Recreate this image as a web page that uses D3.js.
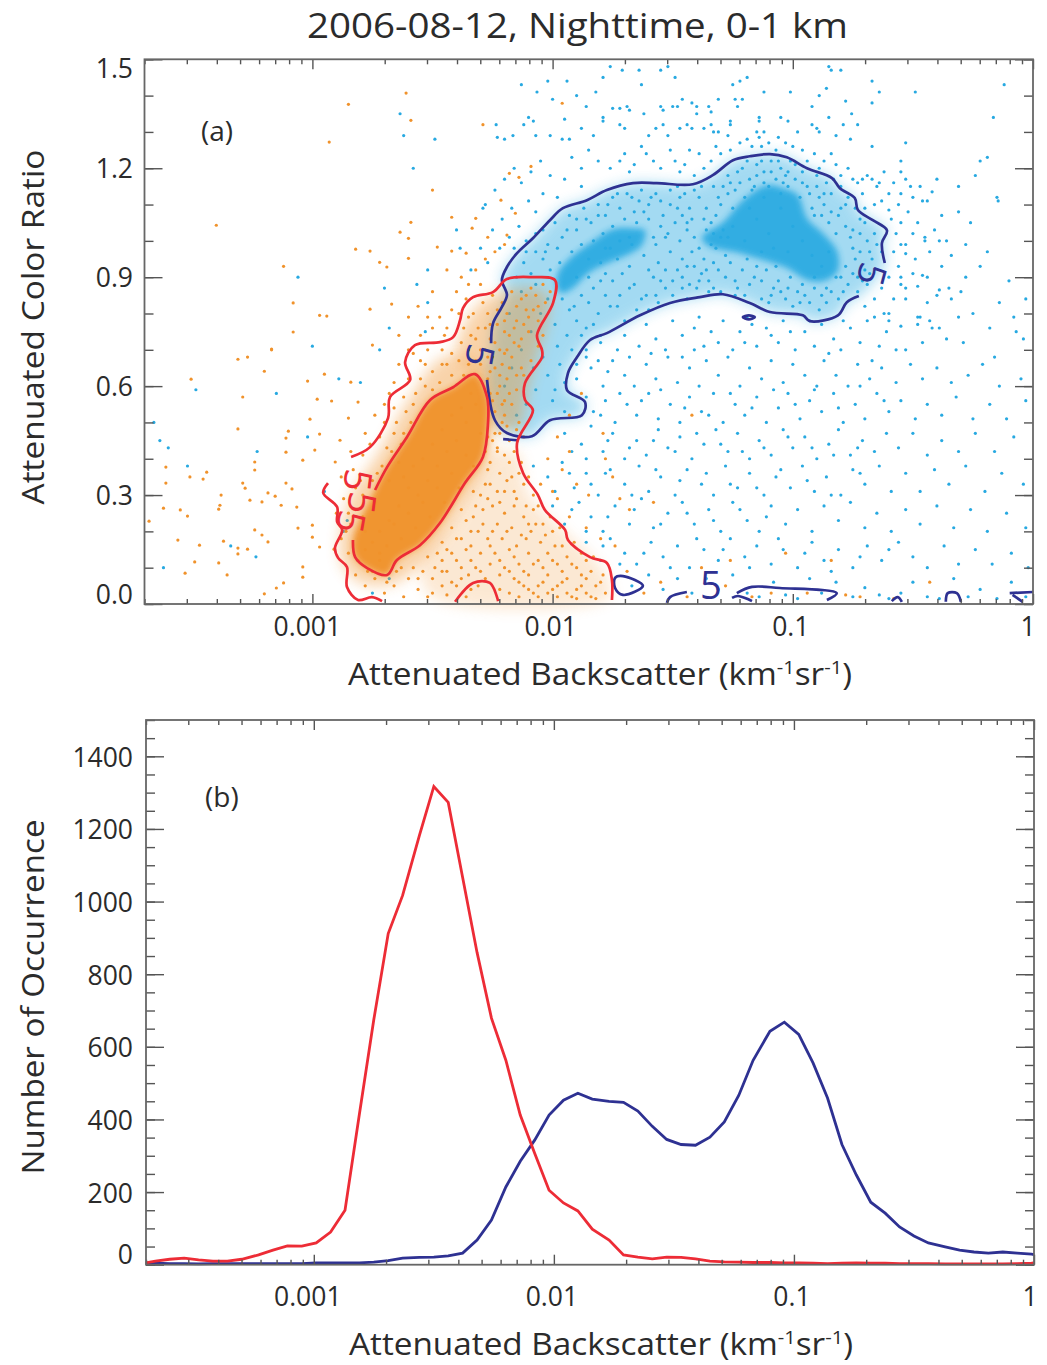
<!DOCTYPE html>
<html>
<head>
<meta charset="utf-8">
<script src="https://cdn.jsdelivr.net/npm/d3@7"></script>
<style>
  body { margin: 0; background: #fff; }
  text { font-family: "Open Sans", sans-serif; fill: #2b2b2b; }
</style>
</head>
<body>
<div id="chart"></div>
<script>
// all (a) panel values are [log10 backscatter, color ratio]

// contours, blue (water cloud)
const blueOuterTop = [[-2.256,.718],[-2.248,.773],[-2.211,.818],[-2.19,.851],[-2.211,.892],[-2.19,.928],[-2.148,.966],[-2.082,1.007],[-2.011,1.057],[-1.957,1.09],[-1.857,1.112],[-1.774,1.14],[-1.665,1.159],[-1.566,1.159],[-1.416,1.156],[-1.333,1.181],[-1.249,1.222],[-1.179,1.233],[-1.095,1.239],[-1.025,1.23],[-.941,1.2],[-.837,1.173],[-.804,1.145],[-.742,1.118],[-.729,1.085],[-.667,1.057],[-.608,1.029],[-.629,.994],[-.617,.939]];
const blueOuterBottom = [[-.725,.848],[-.775,.831],[-.812,.795],[-.929,.779],[-.958,.795],[-1.095,.804],[-1.179,.829],[-1.291,.853],[-1.387,.845],[-1.511,.829],[-1.636,.795],[-1.774,.746],[-1.844,.727],[-1.898,.68],[-1.936,.636],[-1.94,.589],[-1.865,.556],[-1.878,.52],[-2.011,.506],[-2.086,.462],[-2.19,.471],[-2.24,.506],[-2.273,.617]];
const blueInnerLeft = [[-1.982,.87],[-1.978,.911],[-1.928,.952],[-1.844,.994],[-1.749,1.032],[-1.665,1.035],[-1.615,1.029],[-1.628,.988],[-1.665,.969],[-1.844,.914],[-1.915,.87],[-1.961,.856]];
const blueInnerRight = [[-1.378,1.01],[-1.291,1.051],[-1.208,1.112],[-1.108,1.153],[-1.041,1.145],[-.979,1.126],[-.941,1.062],[-.875,1.021],[-.817,.974],[-.808,.928],[-.825,.906],[-.875,.889],[-.941,.892],[-1.025,.925],[-1.124,.947],[-1.22,.966],[-1.357,.988]];
const blueBits = [
  [[-2.206,.454],[-2.148,.451]],
  [[-1.524,.003],[-1.511,.019],[-1.441,.033]],
  [[-1.233,.03],[-1.17,.047],[-1.054,.044],[-.817,.03],[-.858,.011]],
  [[-1.253,.017],[-1.228,.022],[-1.17,.008]],
  [[-.588,.008],[-.563,.019],[-.546,.006]],
  [[-.363,.006],[-.355,.03],[-.317,.03],[-.3,.006]],
  [[-.097,.03],[0,.033]],
  [[-.085,.025],[-.043,.006]]
];
const blueLoops = [
  [[-1.74,.072],[-1.707,.077],[-1.624,.05],[-1.707,.025],[-1.74,.044]],
  [[-1.208,.79],[-1.183,.795],[-1.158,.79],[-1.183,.784]]
];

// contours, red (aerosol)
const redOuter = [[-2.839,.405],[-2.76,.432],[-2.685,.512],[-2.677,.57],[-2.593,.617],[-2.614,.666],[-2.573,.713],[-2.469,.721],[-2.414,.735],[-2.385,.782],[-2.373,.815],[-2.331,.845],[-2.248,.859],[-2.19,.895],[-2.082,.9],[-1.99,.892],[-1.998,.829],[-2.065,.74],[-2.044,.699],[-2.044,.68],[-2.115,.608],[-2.115,.562],[-2.082,.534],[-2.148,.443],[-2.123,.361],[-2.061,.3],[-2.032,.259],[-1.948,.204],[-1.936,.176],[-1.844,.129],[-1.774,.113],[-1.753,.066],[-1.753,.011]];
const redOuterLow = [[-2.935,.333],[-2.955,.306],[-2.897,.267],[-2.897,.226],[-2.876,.204],[-2.906,.154],[-2.893,.127],[-2.856,.102],[-2.856,.047],[-2.81,.011],[-2.752,.019],[-2.71,.008]];
const redBottom = [[-2.406,.006],[-2.331,.058],[-2.261,.058],[-2.227,.008]];
const redInner = [[-2.739,.314],[-2.689,.377],[-2.606,.46],[-2.51,.562],[-2.414,.597],[-2.323,.633],[-2.273,.57],[-2.269,.498],[-2.29,.405],[-2.365,.333],[-2.469,.223],[-2.552,.162],[-2.648,.121],[-2.689,.08],[-2.772,.099],[-2.822,.129],[-2.831,.176]];

// rough outlines of where the orange dots crowd, outside the inner contour
const orangeFringe = [[-2.88,.12],[-2.85,.28],[-2.72,.42],[-2.6,.56],[-2.45,.68],[-2.3,.66],[-2.25,.45],[-2.35,.3],[-2.5,.15],[-2.65,.06],[-2.8,.06]];
const orangeColumn = [[-2.4,.68],[-2.3,.83],[-2.1,.87],[-2.02,.85],[-2.1,.6],[-2.15,.48],[-2.27,.5],[-2.3,.62]];
const orangeTriangle = [[-2.3,.4],[-2.15,.42],[-2.1,.3],[-1.95,.2],[-1.8,.1],[-1.76,.02],[-2.5,.02],[-2.55,.12],[-2.4,.25]];

// contour labels [log10 backscatter, ratio, rotation]
const blueLabels = [[-2.302,.685,100],[-.671,.908,105],[-1.341,.052,0]];
const redLabels = [[-2.81,.341,97],[-2.793,.278,97],[-2.839,.226,100]];

// scatter, water cloud
const bluePointsFar = [[-2.13,1.43],[-2.02,1.44],[-1.94,1.44],[-2.065,1.41],[-2,1.39],[-2.635,1.35],[-2.62,1.29],[-2.49,1.28],[-2.58,1.2],[-2.235,1.32],[-2.12,1.32],[-2.1,1.34],[-2.08,1.33],[-1.95,1.335],[-2.23,1.285],[-2.2,1.28],[-2.165,1.29],[-2.07,1.29],[-2.01,1.29],[-1.96,1.28],[-3.06,.9],[-2.7,.87],[-2.68,.76],[-3,.71],[-2.52,.92],[-2.385,.98],[-2.28,1.1],[-2.29,1.09],[-2.4,1.03],[-2.565,.88],[-2.52,.83],[-2.53,.75],[-3.485,.59],[-3.15,.58],[-3.66,.5],[-3.635,.45],[-3.6,.43],[-3.23,.42],[-3.52,.38],[-3.02,.46],[-2.89,.62],[-2.8,.61],[-2.95,.31],[-2.855,.23],[-2.87,.2],[-3.34,.16],[-3.235,.13],[-3.62,.1],[-2.75,.03],[-2.68,.07],[-2.72,.7],[-2.16,1.2],[-2.2,1.17],[-2.24,1.14],[-2.13,1.16],[-2.09,1.19],[-2.05,1.22],[-2.01,1.18],[-2.04,1.13],[-2.1,1.11],[-2.17,1.09],[-2.21,1.06],[-2.25,1.03],[-2.14,1.04],[-2.07,1.08],[-1.98,1.12],[-1.95,1.17],[-1.92,1.23],[-1.88,1.2],[-1.85,1.25],[-1.81,1.22],[-1.88,1.15],[-2.3,.98],[-2.27,.94],[-2.22,.98],[-2.18,1.01],[-2.34,.92]];
const bluePointsTop = [[-1.76,1.48],[-1.71,1.47],[-1.64,1.47],[-1.55,1.47],[-1.52,1.48],[-1.49,1.45],[-1.63,1.43],[-1.82,1.41],[-1.79,1.45],[-1.25,1.43],[-1.22,1.44],[-1.19,1.45],[-1.12,1.41],[-1.01,1.41],[-.89,1.4],[-.86,1.42],[-.84,1.47],[-.8,1.47],[-.85,1.48],[-.67,1.44],[-.64,1.41],[-.67,1.38],[-.49,1.41],[-.12,1.43],[-.78,1.385],[-.755,1.35],[-.73,1.32],[-.79,1.32],[-.9,1.31],[-.92,1.32],[-.92,1.37],[-1.05,1.34],[-1.14,1.34],[-1.14,1.33],[-1.26,1.33],[-1.26,1.32],[-1.24,1.39],[-1.21,1.39],[-1.23,1.37],[-1.31,1.39],[-1.35,1.37],[-1.34,1.355],[-1.4,1.35],[-1.42,1.38],[-1.4,1.37],[-1.46,1.39],[-1.48,1.37],[-1.5,1.37],[-1.55,1.37],[-1.54,1.36],[-1.62,1.35],[-1.68,1.36],[-1.72,1.365],[-1.75,1.365],[-1.69,1.37],[-1.79,1.34],[-1.79,1.33],[-1.72,1.32],[-1.7,1.31],[-1.57,1.31],[-1.54,1.32],[-1.47,1.31],[-1.44,1.32],[-1.42,1.31],[-1.37,1.31],[-1.34,1.32],[-1.33,1.3],[-1.31,1.3],[-1.27,1.29],[-1.15,1.3],[-1.14,1.285],[-1.06,1.285],[-1.12,1.3],[-.89,1.3],[-.82,1.29],[-.76,1.28],[-.67,1.26],[-.53,1.27],[-.165,1.34],[-.19,1.23],[-.22,1.22],[-.24,1.18],[-.31,1.15],[-.15,1.12],[-.145,1.11],[-.26,1.05],[-.38,1.07],[-.41,1.03],[-.39,1],[-.45,1.01],[-.45,1],[-.48,1.05],[-.19,.97],[-.28,.9],[-.1,.89],[-.34,.96],[-.38,.93],[-.49,.95],[-.53,.965],[-.55,.99],[-.55,1.05],[-.42,1.135],[-.44,1.11],[-.46,1.11],[-.47,1.15],[-.4,1.17],[-.5,1.12],[-.55,1.13],[-.56,1.1],[-.6,1.085],[-.51,1.15],[-.53,1.17],[-.55,1.19],[-.55,1.22],[-.67,1.17],[-.65,1.15],[-.69,1.18],[-.71,1.17],[-.62,1.19],[-.03,.84],[-.44,.83],[-.35,.87],[-.34,.84],[-.39,.865],[-.4,.85],[-.46,.905],[-.44,.9],[-.48,.875],[-.53,.87],[-.55,.9],[-.55,.88],[-.58,.84],[-.53,.84],[-.31,.79],[-.36,.73],[-.46,.72],[-.47,.79],[-.48,.79],[-.48,.77],[-.55,.765],[-.53,.7],[-.6,.78],[-.6,.8],[-1.7,1.24],[-1.63,1.26],[-1.58,1.22],[-1.51,1.25],[-1.45,1.21],[-1.39,1.24],[-1.32,1.26],[-1.76,1.2],[-1.68,1.19],[-1.47,1.19],[-1.41,1.18],[-1.34,1.22],[-1.22,1.27],[-1.17,1.26],[-1.1,1.27],[-1,1.26],[-.96,1.25],[-.91,1.24],[-.87,1.22],[-.82,1.21],[-.77,1.2],[-.73,1.16],[-.63,1.11],[-.59,1.06],[-.57,1.02],[-.58,.97],[-.56,.93],[-.6,.9],[-.63,.87],[-.66,.84],[-.7,.82],[-.62,.8],[-.66,.79],
[-1.72,1.22],[-1.66,1.21],[-1.61,1.24],[-1.55,1.2],[-1.49,1.22],[-1.43,1.25],[-1.37,1.2],[-1.3,1.24],[-1.26,1.25],[-1.19,1.28],[-1.13,1.26],[-1.07,1.25],[-1.03,1.27],[-.94,1.22],[-.89,1.2],[-.84,1.24],[-.8,1.18],[-.75,1.17],[-.71,1.13],[-.66,1.1],[-.6,1.13],[-.64,1.16],[-.58,1.16],[-.52,1.08],[-.5,1.02],[-.53,.99],[-.5,.91],[-.43,.97],[-.36,1],[-.31,1.08],[-.28,.99],[-.22,.93],[-.3,.86],[-.43,.78],[-.39,.76],[-.25,.8],[-.14,.83],[-.08,.79],[-.18,.76],[-.04,.73],[-1.93,1.28],[-1.88,1.31],[-1.83,1.29],[-1.86,1.37],[-1.9,1.4],[-1.6,1.29],[-1.52,1.29],[-.98,1.3],[-1.02,1.33],[-.85,1.34]];
const bluePointsCloud = [[-2.16,.98],[-2.11,1],[-2.07,.97],[-2.12,.94],[-2.04,1.03],[-2.02,.99],[-1.99,1.05],[-1.96,1.01],[-1.93,1.07],[-1.9,1.03],[-1.87,1.09],[-1.84,1.05],[-1.81,1.1],[-1.78,1.07],[-1.75,1.12],[-1.72,1.09],[-1.69,1.13],[-1.66,1.08],[-1.63,1.14],[-1.6,1.1],[-1.57,1.13],[-1.54,1.07],[-1.51,1.14],[-1.48,1.09],[-1.45,1.13],[-1.42,1.06],[-1.39,1.12],[-1.36,1.09],[-1.33,1.15],[-1.3,1.1],[-1.27,1.18],[-1.24,1.14],[-1.21,1.2],[-1.18,1.17],[-1.15,1.21],[-1.12,1.19],[-1.09,1.22],[-1.05,1.2],[-1.02,1.19],[-.99,1.17],[-.96,1.16],[-.93,1.13],[-.9,1.15],[-.87,1.1],[-.84,1.13],[-.81,1.07],[-.78,1.1],[-.75,1.03],[-.72,1.06],[-.69,1],[-.66,1.02],[-.63,.97],[-.67,.95],[-.7,.92],[-.74,.95],[-.77,.88],[-.8,.9],[-.84,.86],[-.88,.85],[-.93,.83],[-.98,.86],[-1.03,.84],[-1.08,.87],[-1.13,.84],[-1.18,.88],[-1.23,.87],[-1.28,.9],[-1.33,.87],[-1.38,.91],[-1.43,.88],[-1.48,.92],[-1.53,.87],[-1.58,.9],[-1.63,.84],[-1.68,.87],[-1.73,.82],[-1.78,.85],[-1.83,.77],[-1.88,.74],[-1.92,.7],[-1.97,.66],[-2.02,.63],[-2.07,.59],[-2.11,.55],[-2.15,.52],[-2,.56],[-1.95,.53],[-2.2,.6],[-2.17,.65],[-2.13,.7],[-2.09,.75],[-2.05,.8],[-2.02,.84],[-2.07,.88],[-2.13,.86],[-2.18,.8],[-1.99,.77],[-1.93,.81],[-1.88,.85],[-1.83,.87],[-1.78,.91],[-1.73,.95],[-1.68,.93],[-1.62,.96],[-1.57,.99],[-1.52,1.02],[-1.47,1],[-1.42,.97],[-1.37,.95],[-1.32,.98],[-1.56,.94],[-1.51,.97],[-1.46,.95],[-1.41,1.01],[-1.36,1.03],[-1.31,.92],[-1.26,.94],[-1.21,.92],[-1.16,.9],[-1.11,.92],[-1.06,.89],[-1.01,.9],[-.96,.88],[-.91,.87],[-.86,.87],[-.82,.9],[-.78,.93],[-.75,.98],[-.72,1.02],[-.78,1.04],[-.82,1.02],[-.85,1.05],[-.88,1.07],[-.92,1.09],[-.97,1.12],[-1.02,1.15],[-1.07,1.17],[-1.12,1.16],[-1.17,1.14],[-1.22,1.16],[-1.27,1.13],[-1.32,1.07],[-1.37,1.06],[-1.43,1.09],[-1.49,1.05],[-1.55,1.04],[-1.6,1.06],[-1.65,1.05],[-1.7,1.06],[-1.75,1.04],[-1.79,1.02],[-1.83,1],[-1.88,.99],[-1.92,.97],[-1.97,.94],[-2.01,.92],[-1.58,1.01],[-1.6,.92],[-1.55,.89],[-1.46,.9],[-1.41,.93],[-1.35,.89],[-1.29,1.03],[-1.25,1.09],[-1.2,1.12],[-1.15,1.18],[-1.09,1.19],[-1.03,1.18],[-.99,1.21],[-1.06,1.22],[-1.13,1.22],[-1.19,1.22],[-.9,1.18],[-.86,1.16],[-.8,1.15],[-.74,1.09],[-.7,1.05],[-.72,.97],[-.69,.88],[-.73,.86],[-.81,.84],[-.89,.81],[-1,.82],[-1.1,.83],[-1.2,.85],[-1.3,.86],[-1.4,.87],[-1.5,.85],[-1.6,.81],[-1.7,.78],[-1.8,.74],[-1.86,.7],[-1.9,.66],[-1.95,.61],[-1.99,.59],
[-1.51,1.1],[-1.47,1.12],[-1.44,1.03],[-1.53,1.01],[-1.59,1.12],[-1.64,1.11],[-1.67,.99],[-1.71,.91],[-1.75,.89],[-1.8,.94],[-1.85,.83],[-1.9,.78],[-1.94,.74],[-1.98,.71],[-2.04,.68],[-2.08,.65],[-1.96,.84],[-2.04,.95],[-2.09,.91],[-2.15,.9],[-1.76,.98],[-1.66,.88],[-1.61,.85],[-1.56,.83],[-1.44,.84],[-1.36,.92],[-1.34,.99],[-1.39,.98],[-1.44,1.05],[-1.38,1.15],[-1.41,1.14],[-1.46,1.07],[-1.33,1.02],[-1.24,.89],[-1.19,.95],[-1.15,.93],[-1.07,.93],[-1.02,.87],[-.95,.85],[-.91,.9],[-.86,.83],[-.79,.86],[-.75,.91],[-.71,.89],[-.76,1.01],[-.8,1.09],[-.84,1.08],[-.89,1.12],[-.94,1.15],[-.87,1.13],[-.91,1.07],[-.96,1.19],[-1.01,1.22],[-1.04,1.16],[-1.1,1.15],[-1.16,1.15],[-1.23,1.19],[-1.26,1.16],[-1.29,1.15],[-1.31,1.12],[-1.34,1.05],[-1.48,1.15],[-1.55,1.11],[-1.62,1.08],[-1.67,1.12],[-1.73,1.13],[-1.77,1.1],[-1.81,1.07],[-1.86,1.06],[-1.9,1.06],[-1.94,1.03],[-1.98,.98],[-2.03,.97],[-2.07,1.02],[-2.11,.97],[-1.72,.85],[-1.65,.81],[-1.76,.82],[-1.81,.8],[-1.86,.76],[-1.91,.82],[-1.85,.9],[-1.8,.89],[-1.53,.92],[-1.5,.89],[-1.44,.93],[-1.39,.89],[-1.33,.94],[-1.28,.96],[-1.27,1.01],[-.68,.97],[-.65,.99],[-.7,1.09],[-.77,1.12],[-.83,1.17],[-.73,.9],[-.68,.91],[-1.13,.89],[-1.09,.85],[-1.05,.86],[-.97,.83],[-1.24,.85],[-1.35,.86],[-1.46,.87],[-1.57,.85]];
const bluePointsCore = [[-1.3,1.01],[-1.25,1.04],[-1.2,1],[-1.15,1.06],[-1.1,1.02],[-1.05,1.09],[-1,1.04],[-.96,1],[-.92,.96],[-.88,.93],[-.85,.97],[-1.08,.98],[-1.13,.97],[-1.02,.97],[-1.18,1.09],[-1.12,1.12],[-1.05,1.13],[-1.78,.98],[-1.72,1],[-1.68,1.01],[-1.85,.95],[-1.9,.9]];
const bluePointsFan = [[-1.8,.72],[-1.73,.7],[-1.7,.74],[-1.64,.71],[-1.61,.77],[-1.57,.73],[-1.53,.7],[-1.5,.78],[-1.46,.74],[-1.41,.7],[-1.39,.79],[-1.34,.75],[-1.31,.72],[-1.29,.78],[-1.25,.7],[-1.22,.75],[-1.19,.79],[-1.15,.71],[-1.11,.76],[-1.06,.72],[-1.04,.78],[-.99,.7],[-.95,.75],[-.91,.71],[-.88,.77],[-.83,.73],[-.8,.7],[-.76,.76],[-.72,.72],[-.69,.78],[-.64,.71],[-.61,.75],[-.57,.7],[-.42,.76],[-.29,.72],[-.16,.68],[-.07,.75],
[-1.9,.62],[-1.84,.65],[-1.79,.6],[-1.75,.67],[-1.7,.63],[-1.66,.6],[-1.61,.66],[-1.57,.62],[-1.52,.68],[-1.48,.61],[-1.43,.65],[-1.39,.6],[-1.36,.67],[-1.31,.63],[-1.27,.68],[-1.22,.6],[-1.18,.65],[-1.13,.62],[-1.09,.67],[-1.04,.61],[-1,.66],[-.95,.63],[-.9,.6],[-.87,.67],[-.82,.63],[-.77,.6],[-.73,.66],[-.68,.62],[-.63,.65],[-.57,.61],[-.51,.66],[-.46,.62],[-.4,.65],[-.34,.61],[-.27,.63],[-.21,.66],[-.14,.6],[-.05,.62],
[-1.83,.53],[-1.78,.56],[-1.74,.5],[-1.69,.55],[-1.65,.52],[-1.6,.58],[-1.56,.51],[-1.51,.55],[-1.47,.5],[-1.43,.57],[-1.38,.53],[-1.33,.58],[-1.29,.5],[-1.24,.55],[-1.2,.52],[-1.15,.57],[-1.11,.5],[-1.06,.54],[-1.02,.58],[-.97,.51],[-.93,.56],[-.88,.53],[-.83,.58],[-.79,.5],[-.74,.55],[-.7,.51],[-.65,.58],[-.6,.53],[-.55,.56],[-.49,.51],[-.44,.55],[-.38,.52],[-.32,.57],[-.25,.51],[-.18,.55],[-.11,.51],[-.03,.56],
[-1.95,.47],[-1.88,.44],[-1.84,.49],[-1.79,.42],[-1.75,.47],[-1.7,.4],[-1.65,.45],[-1.61,.41],[-1.56,.48],[-1.52,.43],[-1.47,.46],[-1.42,.4],[-1.37,.44],[-1.32,.48],[-1.27,.42],[-1.23,.47],[-1.18,.4],[-1.14,.45],[-1.09,.41],[-1.04,.48],[-1,.43],[-.95,.46],[-.9,.4],[-.85,.44],[-.81,.48],[-.76,.41],[-.71,.45],[-.66,.42],[-.61,.47],[-.56,.43],[-.5,.47],[-.44,.41],[-.38,.45],[-.31,.42],[-.24,.47],[-.16,.42],[-.08,.46],
[-2.08,.38],[-2.02,.35],[-1.96,.39],[-1.91,.32],[-1.86,.36],[-1.81,.3],[-1.76,.37],[-1.7,.33],[-1.64,.38],[-1.6,.31],[-1.55,.35],[-1.49,.3],[-1.44,.37],[-1.38,.33],[-1.33,.3],[-1.28,.38],[-1.23,.32],[-1.18,.36],[-1.12,.3],[-1.07,.35],[-1.01,.32],[-.96,.38],[-.91,.31],[-.86,.35],[-.8,.3],[-.75,.37],[-.7,.33],[-.64,.38],[-.59,.31],[-.53,.36],[-.47,.31],[-.41,.37],[-.35,.33],[-.28,.38],[-.2,.31],[-.13,.36],[-.04,.33],
[-2,.27],[-1.95,.22],[-1.89,.28],[-1.84,.24],[-1.79,.2],[-1.74,.27],[-1.68,.22],[-1.63,.29],[-1.58,.21],[-1.52,.25],[-1.46,.28],[-1.41,.22],[-1.35,.26],[-1.3,.2],[-1.25,.28],[-1.19,.23],[-1.14,.2],[-1.09,.27],[-1.03,.22],[-.98,.26],[-.92,.2],[-.87,.27],[-.81,.23],[-.76,.28],[-.7,.21],[-.65,.25],[-.59,.2],[-.53,.26],[-.47,.22],[-.4,.27],[-.33,.21],[-.26,.26],[-.19,.2],[-.11,.25],[-.03,.21],
[-1.86,.17],[-1.8,.12],[-1.76,.18],[-1.7,.14],[-1.65,.11],[-1.59,.17],[-1.54,.13],[-1.48,.16],[-1.43,.1],[-1.37,.15],[-1.31,.12],[-1.26,.18],[-1.2,.13],[-1.15,.16],[-1.09,.11],[-1.04,.15],[-.98,.1],[-.92,.17],[-.87,.12],[-.81,.15],[-.75,.1],[-.69,.16],[-.63,.12],[-.56,.17],[-.5,.13],[-.44,.1],[-.37,.16],[-.31,.11],[-.24,.15],[-.17,.11],[-.09,.14],[-.02,.1],
[-1.67,.05],[-1.6,.08],[-1.54,.04],[-1.48,.07],[-1.42,.03],[-1.36,.07],[-1.31,.04],[-1.25,.08],[-1.19,.03],[-1.14,.02],[-1.08,.06],[-1.03,.025],[-.98,.015],[-.93,.07],[-.88,.03],[-.82,.06],[-.75,.02],[-.7,.045],[-.64,.025],[-.6,.015],[-.55,.03],[-.5,.06],[-.44,.02],[-.39,.015],[-.33,.07],[-.27,.02],[-.22,.04],[-.15,.015],[-.09,.06],[-.03,.02],
[-1.86,.68],[-1.81,.67],[-1.77,.64],[-1.68,.68],[-1.59,.69],[-1.46,.68],[-1.41,.76],[-1.37,.71],[-1.2,.72],[-1.17,.77],[-1.09,.74],[-1.01,.75],[-.93,.78],[-.85,.69],[-.79,.78],[-.67,.67],[-1.86,.57],[-1.8,.52],[-1.72,.58],[-1.63,.56],[-1.55,.59],[-1.45,.54],[-1.35,.52],[-1.26,.58],[-1.17,.54],[-1.08,.59],[-.99,.55],[-.91,.59],[-.81,.54],[-.72,.6],[-.62,.56],[-1.92,.42],[-1.86,.4],[-1.77,.45],[-1.68,.43],[-1.58,.45],[-1.49,.42],[-1.4,.47],[-1.3,.44],[-1.21,.42],[-1.12,.43],[-1.02,.46],[-.92,.43],[-.83,.41],[-.73,.43],[-1.99,.31],[-1.93,.36],[-1.84,.33],[-1.78,.36],[-1.67,.3],[-1.57,.37],[-1.47,.34],[-1.36,.36],[-1.26,.33],[-1.15,.32],[-1.05,.37],[-.94,.34],[-.84,.3],[-.72,.36],[-1.92,.26],[-1.86,.2],[-1.77,.24],[-1.66,.26],[-1.55,.22],[-1.44,.25],[-1.33,.23],[-1.22,.26],[-1.11,.24],[-1.79,.16],[-1.72,.11],[-1.62,.14],[-1.51,.1],[-1.4,.18],[-1.29,.15],[-1.18,.1],[-1.06,.18],[-.95,.14],[-.84,.09],[-.72,.13],[-.6,.15]];

// scatter, aerosol
const orangePointsFar = [[-2.61,1.407],[-2.85,1.376],[-2.59,1.332],[-2.93,1.272],[-2.5,1.14],[-3.4,1.043],[-2.59,1.051],[-2.635,1.024],[-2.6,1.007],[-2.82,.977],[-2.76,.972],[-3.12,.93],[-2.72,.941],[-2.69,.928],[-2.6,.952],[-3.08,.829],[-2.97,.795],[-2.94,.793],[-2.76,.812],[-2.67,.826],[-3.08,.749],[-2.64,.74],[-3.17,.702],[-2.75,.713],[-2.42,1.065],[-2.335,1.035],[-2.29,1.32],[-1.96,1.379],[-2.09,1.205],[-2.14,1.175],[-2.18,1.186],[-2.155,1.076],[-2.32,1.062],[-2.215,1.112],[-2.48,.983],[-2.42,.972],[-2.36,.966],[-2.27,1.01],[-2.19,1.016],[-3.31,.674],[-3.27,.68],[-3.17,.7],[-3.2,.641],[-3.505,.619],[-3.29,.57],[-3.31,.482],[-3.02,.614],[-2.95,.633],[-2.84,.611],[-2.98,.564],[-2.92,.559],[-2.81,.556],[-2.85,.512],[-3.01,.509],[-3.1,.476],[-2.97,.468],[-3.11,.457],[-2.885,.451],[-2.99,.424],[-3.11,.418],[-3.04,.396],[-3.24,.391],[-2.905,.391],[-3.24,.369],[-3.61,.377],[-3.51,.35],[-3.455,.344],[-3.44,.363],[-3.61,.333],[-3.29,.333],[-3.28,.319],[-3.11,.333],[-3.085,.317],[-3.185,.306],[-3.155,.297],[-3.38,.3],[-3.26,.286],[-3.21,.281],[-3.13,.272],[-3.385,.272],[-3.39,.261],[-3.065,.267],[-3.62,.264],[-3.55,.259],[-3.52,.242],[-3.68,.228],[-3,.217],[-3.06,.209],[-3.24,.204],[-3.21,.19],[-3.56,.176],[-3.47,.162],[-3.37,.173],[-3.31,.154],[-3.27,.151],[-3.185,.171],[-3,.184],[-2.97,.157],[-3.31,.138],[-3.49,.116],[-3.39,.113],[-3.53,.085],[-3.355,.08],[-3.04,.102],[-3.04,.074],[-3.12,.058],[-3.15,.044],[-3.2,.028],[-2.91,.151]];
const orangePointsEdge = [[-2.58,.69],[-2.55,.74],[-2.52,.7],[-2.5,.76],[-2.47,.79],[-2.45,.74],[-2.52,.79],[-2.56,.82],[-2.6,.79],[-2.42,.81],[-2.4,.86],[-2.38,.9],[-2.35,.88],[-2.32,.92],[-2.28,.95],[-2.24,.97],[-2.2,.99],[-2.3,.88],[-2.44,.92],[-2.5,.86],[-2.55,.67],[-2.6,.7],[-2.64,.66],[-2.66,.61],[-2.62,.57],[-2.66,.54],[-2.7,.5],[-2.72,.46],[-2.76,.44],[-2.79,.41],[-2.83,.37],[-2.82,.32],[-2.87,.29],[-2.9,.25],[-2.88,.18],[-2.85,.14],[-2.82,.08],[-2.78,.05],[-2.74,.07],[-2.7,.03],[-2.66,.05],[-2.62,.02],[-2.6,.07],[-2.7,.55],[-2.65,.5],[-2.61,.53],[-2.57,.58],[-2.55,.62],[-2.5,.64],[-2.46,.66],[-2.42,.69],[-2.38,.72],[-2.42,.63],[-2.5,.59],[-2.62,.47],[-2.67,.42],[-2.71,.38],[-2.75,.34],[-2.79,.3],[-2.82,.26],[-2.84,.22],[-2.86,.2],[-2.79,.24],[-2.74,.28],[-2.68,.34],[-2.64,.39],[-2.81,.12],[-2.77,.09],[-2.72,.12],[-2.65,.09],[-2.58,.1],[-2.52,.13],[-2.46,.17],[-2.42,.21],[-2.38,.26],[-2.33,.31],[-2.27,.37],[-2.23,.43],[-2.21,.5],[-2.2,.56],[-2.22,.6],[-2.26,.64],[-2.3,.66],
[-2.78,.2],[-2.85,.25],[-2.8,.34],[-2.73,.36],[-2.69,.43],[-2.63,.44],[-2.66,.47],[-2.59,.5],[-2.58,.55],[-2.53,.6],[-2.47,.61],[-2.44,.66],[-2.39,.67],[-2.35,.66],[-2.37,.63],[-2.44,.76],[-2.39,.8],[-2.36,.84],[-2.46,.7],[-2.53,.66],[-2.6,.62],[-2.68,.58],[-2.74,.52],[-2.78,.47],[-2.84,.42],[-2.88,.35],[-2.75,.09],[-2.69,.06],[-2.63,.1],[-2.56,.07],[-2.49,.1],[-2.44,.15],[-2.4,.18],[-2.36,.23],[-2.32,.27],[-2.28,.33],[-2.26,.39],[-2.24,.47],[-2.25,.56]];
const orangePointsColumn = [[-2.3,.7],[-2.26,.73],[-2.22,.7],[-2.18,.74],[-2.14,.71],[-2.1,.75],[-2.06,.78],[-2.03,.83],[-2.07,.85],[-2.11,.81],[-2.15,.78],[-2.19,.8],[-2.23,.77],[-2.27,.8],[-2.31,.76],[-2.35,.79],[-2.34,.74],[-2.29,.83],[-2.25,.85],[-2.21,.83],[-2.17,.86],[-2.13,.84],[-2.09,.87],[-2.04,.88],[-2.01,.86],[-2.25,.68],[-2.21,.66],[-2.17,.68],[-2.13,.65],[-2.09,.67],[-2.06,.71],[-2.27,.62],[-2.23,.58],[-2.19,.62],[-2.15,.59],[-2.12,.63],[-2.24,.53],[-2.2,.52],[-2.17,.55],[-2.14,.5],[-2.22,.47],[-2.18,.45],[-2.15,.48],[-2.25,.45],[-2.28,.42],[-2.2,.41],[-2.16,.42],[-2.12,.46],[-2.32,.73],[-2.37,.76],[-2.28,.76],[-2.24,.72],[-2.2,.75],[-2.16,.72],[-2.12,.77],[-2.08,.81],[-2.04,.74],[-2.28,.7],[-2.24,.65],[-2.18,.58],[-2.15,.63],[-2.2,.69],[-2.32,.67],[-2.35,.7],[-2.27,.68],[-2.19,.7],[-2.13,.73],[-2.23,.81],[-2.15,.82],[-2.1,.79],[-2.26,.77],[-2.33,.8],[-2.22,.63],[-2.18,.65],[-2.26,.58],[-2.21,.55],[-2.19,.49],[-2.23,.42],[-2.27,.46],[-2.11,.85],[-2.06,.82],[-2.16,.76],[-2.2,.78]];
const orangePointsBelow = [[-2.3,.3],[-2.26,.33],[-2.22,.36],[-2.18,.39],[-2.14,.36],[-2.2,.31],[-2.16,.31],[-2.12,.33],[-2.08,.3],[-2.25,.27],[-2.2,.25],[-2.16,.27],[-2.12,.24],[-2.08,.26],[-2.04,.22],[-2.33,.24],[-2.29,.22],[-2.25,.2],[-2.21,.18],[-2.17,.21],[-2.13,.19],[-2.09,.2],[-2.05,.17],[-2,.2],[-1.96,.16],[-2.38,.18],[-2.34,.16],[-2.3,.14],[-2.26,.16],[-2.22,.12],[-2.18,.15],[-2.14,.11],[-2.1,.14],[-2.06,.12],[-2.02,.14],[-1.98,.11],[-1.94,.13],[-1.9,.1],[-1.86,.12],[-2.46,.12],[-2.42,.14],[-2.38,.1],[-2.34,.12],[-2.3,.09],[-2.26,.11],[-2.22,.08],[-2.18,.09],[-2.14,.06],[-2.1,.08],[-2.06,.05],[-2.02,.08],[-1.98,.05],[-1.94,.07],[-1.9,.04],[-1.86,.07],[-1.82,.05],[-1.79,.08],[-2.54,.09],[-2.5,.07],[-2.46,.09],[-2.42,.06],[-2.38,.07],[-2.34,.04],[-2.22,.04],[-2.18,.03],[-2.14,.02],[-2.1,.04],[-2.06,.02],[-2.02,.03],[-1.98,.02],[-1.94,.03],[-1.9,.015],[-1.86,.03],[-1.82,.015],[-1.78,.03],[-2.5,.03],[-2.46,.05],[-2.56,.04],[-2.52,.02],[-2.44,.025],[-2.36,.02],[-2.02,.4],[-1.96,.37],[-1.9,.33],[-1.85,.3],[-1.78,.4],[-1.72,.29],[-1.98,.29],[-1.93,.24],[-1.86,.21],[-1.8,.18],[-1.74,.16],[-1.69,.09],[-1.62,.03],[-1.55,.06],[-1.44,.02],[-1.38,.1],[-1.26,.12],[-1.28,.05],[-1.17,.02],[-1.09,.03],[-1.03,.14],[-.94,.03],[-.84,.12],[-.78,.025],[-.72,.02],[-.58,.015],[-.43,.06],[-1.98,.46],[-1.93,.52],[-1.88,.58],[-1.79,.47],[-1.75,.35],[-1.42,.52],[-1.68,.26],[-1.58,.28],
[-2.27,.29],[-2.23,.31],[-2.19,.34],[-2.15,.29],[-2.11,.27],[-2.31,.2],[-2.27,.18],[-2.23,.22],[-2.19,.2],[-2.15,.16],[-2.11,.18],[-2.07,.22],[-2.03,.19],[-1.99,.16],[-2.4,.12],[-2.36,.15],[-2.32,.1],[-2.28,.07],[-2.24,.14],[-2.2,.1],[-2.16,.13],[-2.12,.09],[-2.08,.11],[-2.04,.1],[-2,.12],[-1.96,.09],[-1.92,.11],[-1.88,.08],[-1.84,.09],[-2.48,.14],[-2.44,.09],[-2.4,.05],[-2.35,.08],[-2.31,.05],[-2.16,.07],[-2.12,.05],[-2.08,.03],[-2.04,.06],[-2,.04],[-1.96,.06],[-1.92,.02],[-1.88,.05],[-1.84,.02],[-1.8,.06],[-2.34,.2],[-2.29,.26],[-2.22,.28],[-2.17,.35],[-2.1,.22],[-2.06,.27],[-2.01,.24],[-1.97,.21],[-1.91,.17],[-1.88,.14],[-1.83,.13],[-2.13,.39],[-2.1,.35],[-2.05,.33],[-2,.31],[-1.93,.42]];
const orangePointsCore = [[-2.75,.17],[-2.72,.2],[-2.69,.16],[-2.66,.22],[-2.63,.18],[-2.6,.25],[-2.57,.21],[-2.54,.28],[-2.51,.24],[-2.48,.32],[-2.45,.28],[-2.42,.36],[-2.39,.32],[-2.36,.41],[-2.33,.38],[-2.3,.47],[-2.32,.55],[-2.36,.5],[-2.4,.45],[-2.44,.42],[-2.48,.38],[-2.52,.34],[-2.56,.3],[-2.6,.32],[-2.64,.27],[-2.68,.23],[-2.72,.14],[-2.78,.15],[-2.38,.54],[-2.42,.52],[-2.46,.48],[-2.34,.58],[-2.5,.44],[-2.54,.4],[-2.58,.38],[-2.62,.35]];

// panel (b), histogram bins
const binLog10 = [-3.7,-3.66,-3.6,-3.54,-3.48,-3.42,-3.36,-3.3,-3.23,-3.17,-3.11,-3.05,-2.99,-2.93,-2.87,-2.81,-2.75,-2.69,-2.63,-2.56,-2.5,-2.44,-2.38,-2.32,-2.26,-2.2,-2.14,-2.08,-2.02,-1.96,-1.9,-1.84,-1.77,-1.71,-1.65,-1.59,-1.53,-1.47,-1.41,-1.35,-1.29,-1.23,-1.17,-1.1,-1.04,-.98,-.92,-.86,-.8,-.74,-.68,-.62,-.56,-.5,-.44,-.37,-.31,-.25,-.19,-.13,-.07,-.01,0];
const redCounts = [5,10,15,18,13,10,10,15,27,40,52,51,60,90,150,415,675,912,1017,1182,1317,1273,1066,860,679,563,412,307,205,170,148,98,68,27,21,16,21,20,16,10,8,7,6,6,5,5,4,3,4,5,4,4,3,3,3,2,2,2,2,2,3,4,5];
const blueCounts = [4,4,3,3,2,3,3,3,3,3,3,3,5,5,5,5,7,11,18,20,21,24,32,68,123,214,285,343,412,453,472,456,450,447,423,381,345,331,329,351,393,466,563,643,668,634,555,459,331,247,172,142,104,79,60,49,40,35,32,35,32,29,28];

// tick values
const xMajor = [0.001, 0.01, 0.1, 1];
const xLabels = ["0.001", "0.01", "0.1", "1"];
const yTicksA = [0, 0.3, 0.6, 0.9, 1.2, 1.5];
const yTicksB = [0, 200, 400, 600, 800, 1000, 1200, 1400];

const colors = { red: "#ed2c36", navy: "#2e3192", orange: "#f0922b", sky: "#27a9e1", frame: "#666" };

const svg = d3.select("#chart").append("svg").attr("width", 1047).attr("height", 1365);

// soft edges for the crowded areas
const defs = svg.append("defs");
[["soft", 7], ["softer", 3]].forEach(([id, sd]) => {
  defs.append("filter").attr("id", id).attr("x", "-20%").attr("y", "-20%").attr("width", "140%").attr("height", "140%")
    .append("feGaussianBlur").attr("stdDeviation", sd);
});

// scales
const xA = d3.scaleLog().domain([2e-4, 1]).range([144.5, 1033]);
const yA = d3.scaleLinear().domain([0, 1.5]).range([604, 59.3]);
const xB = d3.scaleLog().domain([2e-4, 1]).range([146, 1034]);
const yB = d3.scaleLinear().domain([0, 1500]).range([1264.7, 720]);

// frame with inward ticks on all four sides
function drawFrame(x, y, yMajor, yMinor) {
  const [l, r] = x.range(), [b, t] = y.range();
  const xMinor = x.ticks().filter(d => !xMajor.includes(d));
  const axes = [
    [d3.axisTop, x, b, xMajor, xMinor, 10, 5],
    [d3.axisBottom, x, t, xMajor, xMinor, 10, 5],
    [d3.axisRight, y, l, yMajor, yMinor, 18, 9],
    [d3.axisLeft, y, r, yMajor, yMinor, 18, 9]
  ];
  axes.forEach(([axis, scale, pos, major, minor, bigLen, smallLen]) => {
    const horizontal = axis === d3.axisTop || axis === d3.axisBottom;
    const transform = horizontal ? "translate(0," + pos + ")" : "translate(" + pos + ",0)";
    [[major, bigLen], [minor, smallLen]].forEach(([vals, len]) => {
      svg.append("g").attr("transform", transform)
        .call(axis(scale).tickValues(vals).tickSize(len).tickFormat(""))
        .call(g => g.select(".domain").remove())
        .call(g => g.selectAll("line").attr("stroke", "#555").attr("stroke-width", 1.4));
    });
  });
  svg.append("rect").attr("x", l).attr("y", t).attr("width", r - l).attr("height", b - t)
    .attr("fill", "none").attr("stroke", colors.frame).attr("stroke-width", 1.8);
}

function tickText(x, y, str, anchor) {
  svg.append("text").attr("x", x).attr("y", y).attr("text-anchor", anchor)
    .attr("font-size", 26.5).text(str);
}

// panel (a) --------------------------------------------------------------
const pathA = d3.line().x(d => xA(Math.pow(10, d[0]))).y(d => yA(d[1])).curve(d3.curveCatmullRom.alpha(0.5));
const closedA = d3.line().x(d => xA(Math.pow(10, d[0]))).y(d => yA(d[1])).curve(d3.curveCatmullRomClosed.alpha(0.5));

function dots(points, color) {
  svg.append("g").attr("fill", color).selectAll("circle").data(points).join("circle")
    .attr("cx", d => xA(Math.pow(10, d[0]))).attr("cy", d => yA(d[1])).attr("r", 1.6);
}
function shade(points, color, opacity, blur) {
  svg.append("path").attr("d", closedA(points)).attr("fill", color).attr("opacity", opacity)
    .attr("filter", "url(#" + blur + ")");
}

// dense parts of the clouds are shaded under the dots
shade(blueOuterTop.concat(blueOuterBottom), colors.sky, 0.42, "soft");
[blueInnerLeft, blueInnerRight].forEach(c => shade(c, colors.sky, 0.9, "softer"));
[bluePointsFar, bluePointsTop, bluePointsCloud, bluePointsCore, bluePointsFan].forEach(p => dots(p, colors.sky));
shade(orangeTriangle, colors.orange, 0.2, "soft");
shade(orangeColumn, colors.orange, 0.4, "soft");
shade(orangeFringe, colors.orange, 0.4, "soft");
shade(redInner, colors.orange, 0.95, "softer");
[orangePointsFar, orangePointsEdge, orangePointsColumn, orangePointsBelow, orangePointsCore].forEach(p => dots(p, colors.orange));

// contours
[blueOuterTop, blueOuterBottom].concat(blueBits).forEach(c => {
  svg.append("path").attr("d", pathA(c)).attr("fill", "none").attr("stroke", colors.navy).attr("stroke-width", 2.7);
});
blueLoops.forEach(c => {
  svg.append("path").attr("d", closedA(c)).attr("fill", "none").attr("stroke", colors.navy).attr("stroke-width", 2.7);
});
[redOuter, redOuterLow, redBottom, redInner].forEach(c => {
  svg.append("path").attr("d", pathA(c)).attr("fill", "none").attr("stroke", colors.red).attr("stroke-width", 2.7);
});

function contourLabels(list, color) {
  list.forEach(d => {
    const px = xA(Math.pow(10, d[0])), py = yA(d[1]);
    svg.append("text").attr("transform", "translate(" + px + "," + py + ") rotate(" + d[2] + ")")
      .attr("text-anchor", "middle").attr("dy", "0.36em").attr("font-size", 38)
      .style("fill", color).text("5");
  });
}
contourLabels(blueLabels, colors.navy);
contourLabels(redLabels, colors.red);

drawFrame(xA, yA, yTicksA, d3.range(0, 1.55, 0.1));

yTicksA.forEach(d => {
  // first and last labels sit inside the frame
  const nudge = d === 1.5 ? 9 : d === 0 ? -10 : 0;
  tickText(133, yA(d) + nudge + 9.5, d.toFixed(1), "end");
});
xMajor.forEach((d, i) => {
  const shift = i === 3 ? -5 : i === 0 ? -5 : -2;
  tickText(xA(d) + shift, 636, xLabels[i], "middle");
});

svg.append("text").attr("x", 577.5).attr("y", 38).attr("text-anchor", "middle")
  .attr("font-size", 34).attr("textLength", 541).attr("lengthAdjust", "spacingAndGlyphs")
  .text("2006-08-12, Nighttime, 0-1 km");
svg.append("text").attr("x", 201).attr("y", 141).attr("font-size", 28).text("(a)");

function xTitle(cx, y) {
  const t = svg.append("text").attr("x", cx).attr("y", y).attr("text-anchor", "middle")
    .attr("font-size", 31.5).attr("textLength", 504).attr("lengthAdjust", "spacingAndGlyphs");
  t.append("tspan").text("Attenuated Backscatter (km");
  t.append("tspan").attr("dy", -11).attr("font-size", 19).text("-1");
  t.append("tspan").attr("dy", 11).text("sr");
  t.append("tspan").attr("dy", -11).attr("font-size", 19).text("-1");
  t.append("tspan").attr("dy", 11).text(")");
}
function yTitle(cy, str) {
  svg.append("text").attr("transform", "translate(44," + cy + ") rotate(-90)")
    .attr("text-anchor", "middle").attr("font-size", 31.5)
    .attr("textLength", 355).attr("lengthAdjust", "spacingAndGlyphs").text(str);
}
xTitle(600, 685);
yTitle(327, "Attenuated Color Ratio");

// panel (b) --------------------------------------------------------------
const lineB = counts => d3.line()
  .x((d, i) => xB(Math.pow(10, binLog10[i])))
  .y(d => yB(d))(counts);

svg.append("path").attr("d", lineB(blueCounts)).attr("fill", "none").attr("stroke", colors.navy).attr("stroke-width", 2.8);
svg.append("path").attr("d", lineB(redCounts)).attr("fill", "none").attr("stroke", colors.red).attr("stroke-width", 2.8);

drawFrame(xB, yB, yTicksB, d3.range(0, 1550, 50));

yTicksB.forEach(d => {
  const nudge = d === 0 ? -10 : 1;
  tickText(133, yB(d) + nudge + 9.5, String(d), "end");
});
xMajor.forEach((d, i) => {
  const shift = i === 3 ? -4 : i === 0 ? -6 : -2;
  tickText(xB(d) + shift, 1306, xLabels[i], "middle");
});

svg.append("text").attr("x", 205).attr("y", 807).attr("font-size", 28).text("(b)");
xTitle(601, 1355);
yTitle(997, "Number of Occurrence");
</script>
</body>
</html>
